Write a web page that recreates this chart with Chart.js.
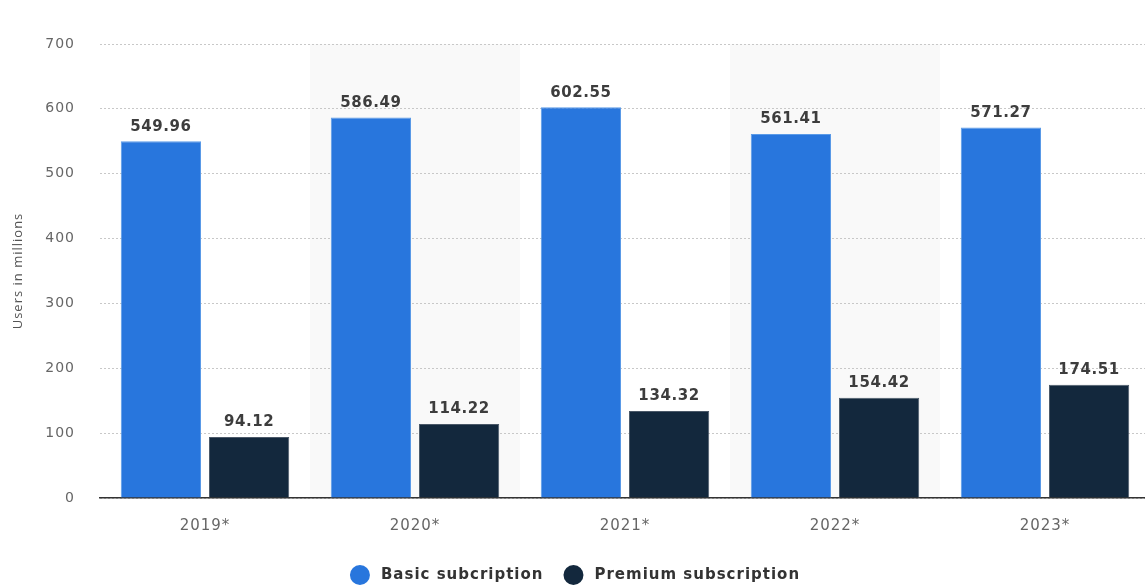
<!DOCTYPE html>
<html lang="en">
<head>
  <meta charset="UTF-8" />
  <title>Users in millions</title>
  <script src="https://cdn.jsdelivr.net/npm/chart.js"></script>
  <style>
    body { margin: 0; background: #fff; overflow: hidden; }
    #wrap { width: 1150px; height: 585px; }
  </style>
</head>
<body>
  <div id="wrap"><canvas id="usersChart" width="1150" height="585"></canvas></div>

  <script>
    const years = ['2019*', '2020*', '2021*', '2022*', '2023*'];
    const basicUsers = [549.96, 586.49, 602.55, 561.41, 571.27];
    const premiumUsers = [94.12, 114.22, 134.32, 154.42, 174.51];
    const yTicks = [0, 100, 200, 300, 400, 500, 600, 700];

    const FONT = "'DejaVu Sans', Verdana, sans-serif";

    // the source text is a bit wider than our fonts, so space letters out
    const spacing = {
      id: 'spacing',
      beforeInit(chart) { chart.ctx.letterSpacing = '1px'; },
      beforeDraw(chart) { chart.ctx.letterSpacing = '1px'; }
    };

    // shaded background on every second category (under the grid)
    const bands = {
      id: 'bands',
      beforeDraw(chart) {
        const { ctx, chartArea, scales: { x } } = chart;
        const w = (chartArea.right - chartArea.left) / years.length;
        ctx.save();
        ctx.fillStyle = '#f9f9f9';
        years.forEach((y, i) => {
          if (i % 2 === 1) {
            const cx = x.getPixelForValue(i);
            ctx.fillRect(cx - w / 2, chartArea.top, w, chartArea.bottom - chartArea.top);
          }
        });
        ctx.restore();
      }
    };

    // value labels above bars
    const valueLabels = {
      id: 'valueLabels',
      afterDatasetsDraw(chart) {
        const { ctx } = chart;
        ctx.save();
        ctx.font = 'bold 15px ' + FONT;
        ctx.letterSpacing = '0.6px';
        ctx.fillStyle = '#3d3d3d';
        ctx.textAlign = 'center';
        ctx.textBaseline = 'bottom';
        chart.data.datasets.forEach((ds, di) => {
          chart.getDatasetMeta(di).data.forEach((bar, i) => {
            ctx.fillText(ds.data[i].toFixed(2), bar.x, bar.y - 7);
          });
        });
        ctx.restore();
      }
    };

    // legend drawn at the bottom of the canvas
    const bottomLegend = {
      id: 'bottomLegend',
      afterDraw(chart) {
        const { ctx, width, height } = chart;
        ctx.save();
        ctx.font = 'bold 15px ' + FONT;
        ctx.letterSpacing = '1px';
        ctx.textBaseline = 'middle';
        const r = 10, gapIcon = 11, gapItem = 20;
        const items = chart.data.datasets.map(ds => ({ label: ds.label, color: ds.backgroundColor }));
        const total = items.reduce((s, it) => s + r * 2 + gapIcon + ctx.measureText(it.label).width, 0) + gapItem * (items.length - 1);
        let x = (width - total) / 2;
        const y = height - 10;
        items.forEach(it => {
          ctx.fillStyle = it.color;
          ctx.beginPath();
          ctx.arc(x + r, y, r, 0, Math.PI * 2);
          ctx.fill();
          x += r * 2 + gapIcon;
          ctx.fillStyle = '#333';
          ctx.fillText(it.label, x, y);
          x += ctx.measureText(it.label).width + gapItem;
        });
        ctx.restore();
      }
    };

    new Chart(document.getElementById('usersChart'), {
      type: 'bar',
      data: {
        labels: years,
        datasets: [
          { label: 'Basic subcription', data: basicUsers, backgroundColor: '#2876dd', borderColor: '#5b9be8', borderWidth: 1 },
          { label: 'Premium subscription', data: premiumUsers, backgroundColor: '#13283d', borderColor: '#4a5868', borderWidth: 1 }
        ]
      },
      options: {
        responsive: false,
        animation: false,
        devicePixelRatio: 1,
        categoryPercentage: 0.84,
        barPercentage: 0.91,
        layout: { padding: { top: 44, right: 0, left: 0, bottom: 0 } },
        plugins: { legend: { display: false }, tooltip: { enabled: false } },
        scales: {
          x: {
            grid: { display: false },
            border: { display: true, color: '#333', width: 1.5 },
            ticks: { color: '#666', font: { family: FONT, size: 15 }, padding: 11 },
            afterFit(scale) { scale.height = 87; }
          },
          y: {
            min: 0,
            max: 700,
            afterBuildTicks(scale) { scale.ticks = yTicks.map(v => ({ value: v })); },
            grid: { color: '#c8c8c8', lineWidth: 1, drawTicks: false },
            border: { display: false, dash: [2, 2] },
            ticks: { color: '#666', font: { family: FONT, size: 14 }, padding: 25 },
            title: {
              display: true,
              text: 'Users in millions',
              color: '#555',
              font: { family: "'Open Sans', sans-serif", size: 13 },
              padding: { top: 10, bottom: 0 }
            },
            afterFit(scale) { scale.width = 100; }
          }
        }
      },
      plugins: [spacing, bands, valueLabels, bottomLegend]
    });
  </script>
</body>
</html>
